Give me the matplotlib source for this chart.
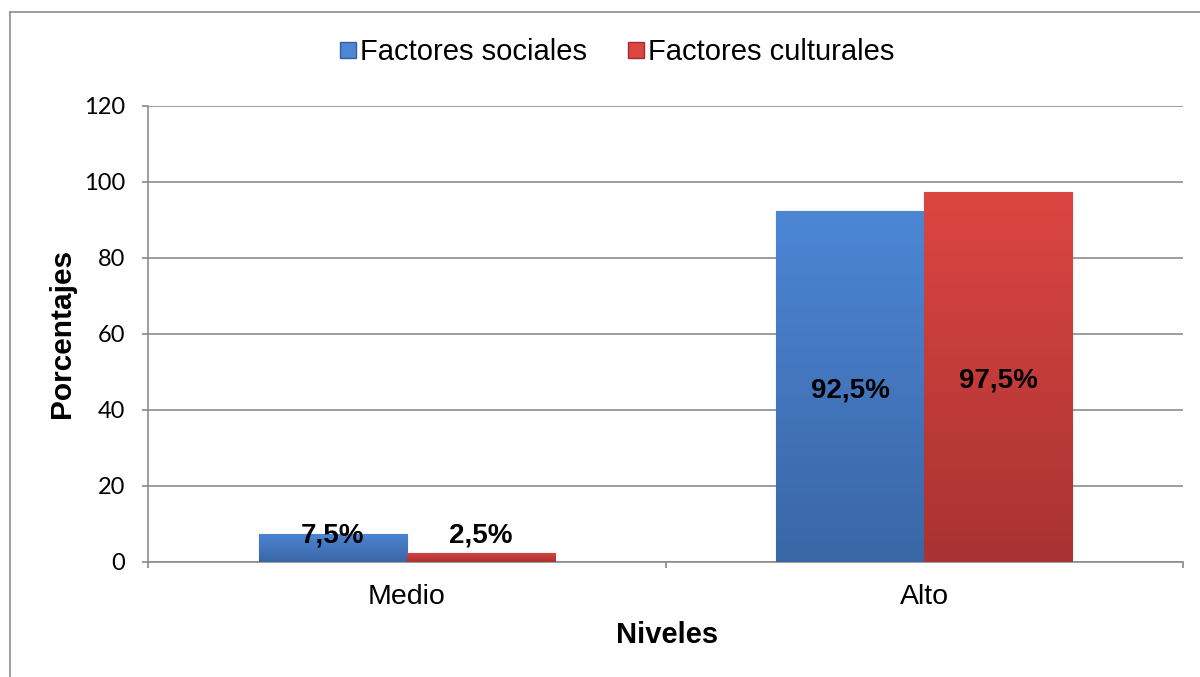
import matplotlib
matplotlib.use("Agg")
import matplotlib.pyplot as plt
import numpy as np
from matplotlib.lines import Line2D
from matplotlib.colors import LinearSegmentedColormap

categories = ["Medio", "Alto"]
series_names = ["Factores sociales", "Factores culturales"]
sociales = [7.5, 92.5]
culturales = [2.5, 97.5]
labels_sociales = ["7,5%", "92,5%"]
labels_culturales = ["2,5%", "97,5%"]
yticks = [0, 20, 40, 60, 80, 100, 120]

plt.rcParams['font.family'] = ['Liberation Sans', 'DejaVu Sans']

fig = plt.figure(figsize=(12, 6.77), dpi=100)
ax = fig.add_axes([148/1200, 1-562/677, (1183-148)/1200, (562-106)/677])

x = np.arange(len(categories))
w = 0.286
colors_top = ["#4c86d4", "#dc4542"]
colors_bot = ["#3a66a6", "#a83332"]
edge = ["#36609c", "#9a2e2e"]

for i, (vals, lab) in enumerate([(sociales, labels_sociales), (culturales, labels_culturales)]):
    offs = -w/2 if i == 0 else w/2
    bars = ax.bar(x + offs, vals, width=w, color=colors_top[i], edgecolor=edge[i],
                  linewidth=0.8, zorder=3, label=series_names[i])
    cmap = LinearSegmentedColormap.from_list("g%d" % i, [colors_bot[i], colors_top[i]])
    for b in bars:
        x0, y0 = b.get_x(), b.get_y()
        bw, bh = b.get_width(), b.get_height()
        grad = np.linspace(0, 1, 256).reshape(-1, 1)
        im = ax.imshow(grad, extent=[x0, x0 + bw, y0, y0 + bh], origin="lower",
                       cmap=cmap, aspect="auto", zorder=3.5)
        im.set_clip_path(b)
    for b, v, t in zip(bars, vals, lab):
        ypos = max(v / 2 - 1, 7.1)
        ax.text(b.get_x() + b.get_width()/2, ypos, t, ha="center", va="center",
                fontsize=20, fontweight="bold", color="black", zorder=5)

ax.set_xlim(-0.5, 1.5)
ax.set_ylim(0, 120)
ax.set_yticks(yticks)
ax.set_yticklabels([str(v) for v in yticks], fontsize=17, family=['Lato', 'DejaVu Sans'])
ax.set_xticks(x)
ax.set_xticklabels(categories, fontsize=20.5)
ax.set_xticks([-0.5, 0.5, 1.5], minor=True)
ax.tick_params(axis='x', which='major', length=0, pad=16)
ax.tick_params(axis='x', which='minor', length=4.5, color="#888888", width=1.2)
ax.tick_params(axis='y', length=4.5, color="#888888", width=1.2, pad=12)
ax.grid(axis='y', color="#8c8c8c", linewidth=1.2, zorder=0)
for s in ["top", "right"]:
    ax.spines[s].set_visible(False)
for s in ["left", "bottom"]:
    ax.spines[s].set_color("#8c8c8c")
    ax.spines[s].set_linewidth(1.2)

fig.text(62/1200, 1-333/677, "Porcentajes", rotation=90, ha="center", va="center",
         fontsize=21.5, fontweight="bold")
fig.text(667/1200, 1-635/677, "Niveles", ha="center", va="center",
         fontsize=21, fontweight="bold")

handles = [Line2D([], [], marker="s", linestyle="none", markersize=11.5,
                  markerfacecolor=colors_top[i], markeredgecolor=edge[i])
           for i in range(2)]
fig.legend(handles, series_names, loc="center", bbox_to_anchor=(617/1200, 1-52/677),
           ncol=2, frameon=False, fontsize=21, handletextpad=0.1, columnspacing=1.4,
           handlelength=0.6, borderpad=0, borderaxespad=0)

# outer chart border
fig.add_artist(Line2D([10/1200, 10/1200], [0, 1-12/677], color="#8c8c8c", linewidth=1.2,
                      transform=fig.transFigure))
fig.add_artist(Line2D([10/1200, 1], [1-12/677, 1-12/677], color="#8c8c8c", linewidth=1.2,
                      transform=fig.transFigure))

fig.savefig("out.png", dpi=100)
